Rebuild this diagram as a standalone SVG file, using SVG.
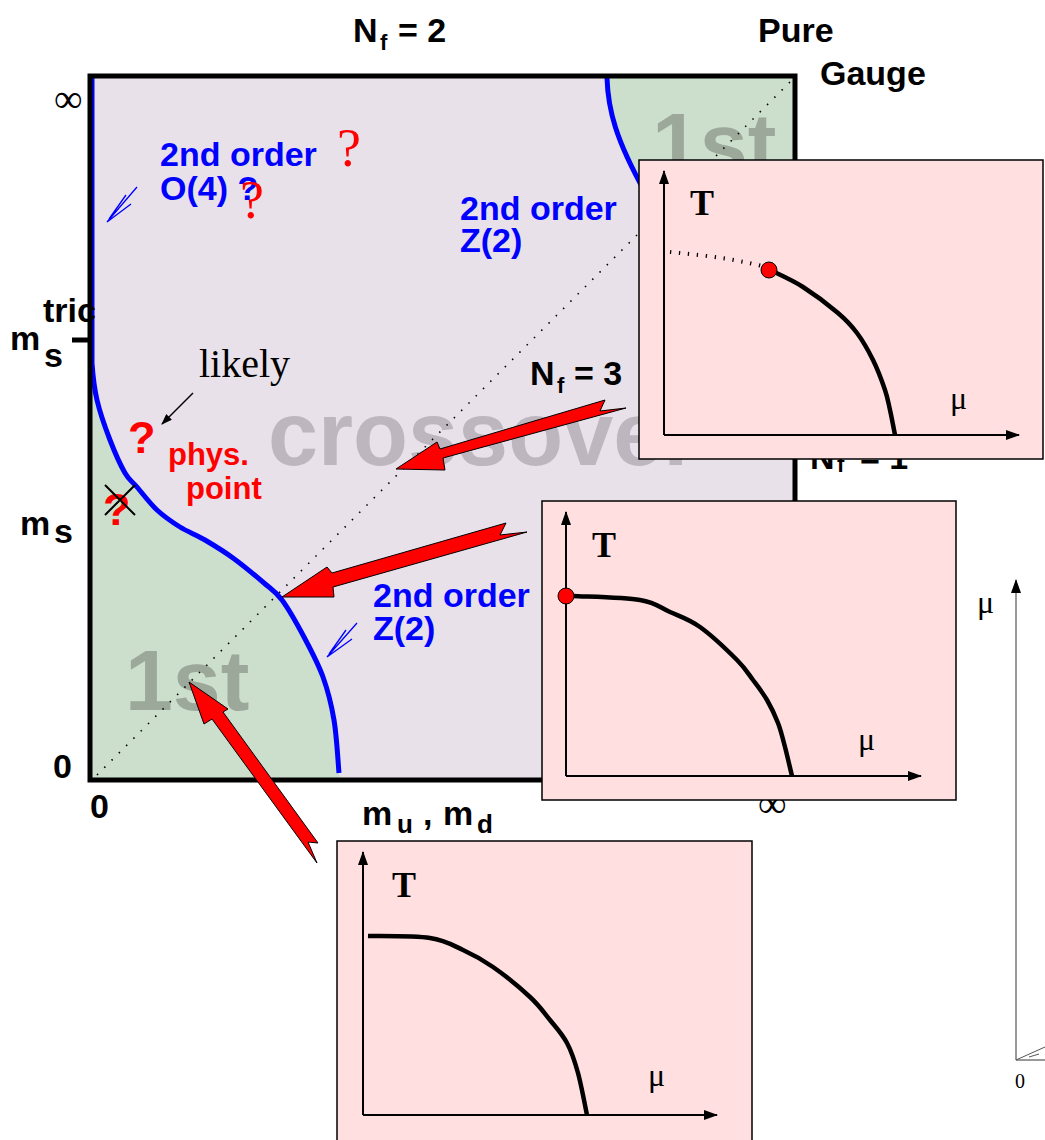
<svg xmlns="http://www.w3.org/2000/svg" width="1045" height="1140" viewBox="0 0 1045 1140">
<defs>
<marker id="ah" markerWidth="11" markerHeight="8" refX="10" refY="4" orient="auto" markerUnits="userSpaceOnUse"><path d="M0,0 L11,4 L0,8 Z" fill="#000"/></marker>
<marker id="axh" markerWidth="14" markerHeight="10" refX="13" refY="5" orient="auto" markerUnits="userSpaceOnUse"><path d="M0,0 L14,5 L0,10 Z" fill="#000"/></marker>
</defs>
<style>
.lbl{font-family:"Liberation Sans",Arial,sans-serif;font-weight:bold;font-size:34px;fill:#000}
.blue{font-family:"Liberation Sans",Arial,sans-serif;font-weight:bold;font-size:34px;fill:#0000FF}
.red{font-family:"Liberation Sans",Arial,sans-serif;font-weight:bold;fill:#FF0000}
.rq{font-family:"Liberation Serif","Times New Roman",serif;font-size:54px;fill:#FF0000}
.serif{font-family:"Liberation Serif","Times New Roman",serif;fill:#000}
.bigg{font-family:"Liberation Sans",Arial,sans-serif;font-weight:bold}
.rarrow{fill:#FF0000;stroke:#000;stroke-width:1}
.inset{fill:#FFDFE0;stroke:#000;stroke-width:1.5}
.axis{stroke:#000;stroke-width:2;fill:none}
.curve{stroke:#000;stroke-width:4.5;fill:none;stroke-linejoin:round}
.T{font-family:"Liberation Serif","Times New Roman",serif;font-weight:bold;font-size:36px;fill:#000}
.mu{font-family:"Liberation Serif","Times New Roman",serif;font-size:32px;fill:#000}
.bl{stroke:#0000FF;stroke-width:5;fill:none;stroke-linejoin:round}
.thinb{stroke:#0000FF;stroke-width:1.3;fill:none}
.dot{fill:#FF0000;stroke:#000;stroke-width:1}
</style>

<g id="phase-square">
<rect x="90" y="76" width="705" height="704" fill="#E8E1EA"/>
<path d="M92,363 C92.8,374.7 94,387.2 97,400 C100,412.8 105.3,427.8 110,440 C114.7,452.2 120.5,465.2 125,473 C129.5,480.8 131.7,480.8 137,487 C142.3,493.2 149.8,503.3 157,510 C164.2,516.7 172,522 180,527 C188,532 196.2,534.8 205,540 C213.8,545.2 223.2,550.8 233,558 C242.8,565.2 255.8,576 264,583 C272.2,590 275.3,591 282,600 C288.7,609 297.2,624.2 304,637 C310.8,649.8 318,663.2 323,677 C328,690.8 331.3,704 334,720 C336.7,736 338.2,764.2 339,773 L340,780 L90,780 L90,363 Z" fill="#CCDECC"/>
<path d="M607,76 C608,110 616,140 645,192 L700,300 L795,300 L795,76 Z" fill="#CCDECC"/>
<text class="bigg" x="125" y="710" font-size="86" fill="#9BA89A">1st</text>
<text class="bigg" x="652" y="173" font-size="86" fill="#9BA89A">1st</text>
<text class="bigg" x="268" y="465" font-size="90" fill="#BDB6BE">crossover</text>
<line x1="97" y1="775" x2="792" y2="80" stroke="#000" stroke-width="1.6" stroke-dasharray="1.5 8.8"/>
<path class="bl" d="M92,78 L92,363 C92.8,374.7 94,387.2 97,400 C100,412.8 105.3,427.8 110,440 C114.7,452.2 120.5,465.2 125,473 C129.5,480.8 131.7,480.8 137,487 C142.3,493.2 149.8,503.3 157,510 C164.2,516.7 172,522 180,527 C188,532 196.2,534.8 205,540 C213.8,545.2 223.2,550.8 233,558 C242.8,565.2 255.8,576 264,583 C272.2,590 275.3,591 282,600 C288.7,609 297.2,624.2 304,637 C310.8,649.8 318,663.2 323,677 C328,690.8 331.3,704 334,720 C336.7,736 338.2,764.2 339,773"/>
<path class="bl" d="M607,78 C608,110 616,140 645,192"/>
<rect x="90" y="76" width="705" height="704" fill="none" stroke="#000" stroke-width="5"/>
</g>

<g id="labels">
<text class="lbl" x="353" y="42">N<tspan font-size="22" x="380" y="50">f</tspan><tspan x="398" y="42">= 2</tspan></text>
<text class="lbl" x="758" y="42">Pure</text>
<text class="lbl" x="820" y="85">Gauge</text>
<text class="serif" x="54" y="112" font-size="40">∞</text>
<text class="lbl" x="10" y="350">m</text>
<text class="lbl" x="44" y="367" font-size="26">s</text>
<text class="lbl" x="43" y="322" font-size="21">tric</text>
<line x1="72" y1="340" x2="90" y2="340" stroke="#000" stroke-width="5"/>
<text class="lbl" x="20" y="535">m</text>
<text class="lbl" x="54" y="543" font-size="26">s</text>
<text class="lbl" x="53" y="778" font-size="32">0</text>
<text class="lbl" x="90" y="818" font-size="32">0</text>
<text class="lbl" x="362" y="825">m<tspan font-size="26" x="397" y="833">u</tspan><tspan x="423" y="825">,</tspan><tspan x="443" y="825">m</tspan><tspan font-size="26" x="477" y="833">d</tspan></text>
<text class="serif" x="758" y="817" font-size="40">∞</text>
<text class="blue" x="160" y="166">2nd order</text>
<text class="blue" x="160" y="200">O(4) ?</text>
<text class="rq" x="337" y="166">?</text>
<text class="rq" x="240" y="218">?</text>
<text class="blue" x="460" y="220">2nd order</text>
<text class="blue" x="460" y="252">Z(2)</text>
<text class="blue" x="373" y="607">2nd order</text>
<text class="blue" x="373" y="640">Z(2)</text>
<text class="serif" x="199" y="377" font-size="40">likely</text>
<text class="red" x="128" y="453" font-size="45">?</text>
<text class="red" x="168" y="465" font-size="31">phys.</text>
<text class="red" x="186" y="499" font-size="31">point</text>
<text class="red" x="103" y="525" font-size="45">?</text>
<path d="M105,485 L135,515 M105,515 L135,485" stroke="#000" stroke-width="2" fill="none"/>
<text class="lbl" x="530" y="385">N<tspan font-size="22" x="557" y="393">f</tspan><tspan x="574" y="385">= 3</tspan></text>
<text class="lbl" x="810" y="469">N<tspan font-size="22" x="837" y="472">f</tspan><tspan x="860" y="469">= 1</tspan></text>
</g>

<g id="connectors">
<polygon class="rarrow" points="396,469 437,442 440,449 605,400 600,411 626,408 443,458 445,470"/>
<polygon class="rarrow" points="282,597 327,567 332,573 506,523 500,535 527,532 333,587 334,597"/>
<polygon class="rarrow" points="189,682 204,724 212,719 317,863 308,842 318,843 223,712 228,709"/>
<line x1="193" y1="393" x2="162" y2="424" stroke="#000" stroke-width="1.5" marker-end="url(#ah)"/>
<path class="thinb" d="M137,187 L107,222 L131,204 M126,195 L109,219"/>
<path class="thinb" d="M357,623 L327,657 L352,639 M346,630 L329,654"/>
</g>

<g id="inset-nf3">
<rect class="inset" x="639" y="160" width="404" height="299"/>
<line class="axis" x1="664" y1="435" x2="664" y2="171" marker-end="url(#axh)"/>
<line class="axis" x1="664" y1="435" x2="1019" y2="435" marker-end="url(#axh)"/>
<text class="T" x="690" y="215">T</text>
<text class="mu" x="950" y="409">μ</text>
<path d="M670,252 C700,255 730,258 762,266" stroke="#000" stroke-width="4" stroke-dasharray="1.3 7.7" fill="none"/>
<path class="curve" d="M770,270 C775.5,272.8 791.7,279.8 803,287 C814.3,294.2 829,305.3 838,313 C847,320.7 851.2,325.2 857,333 C862.8,340.8 868.3,350.5 873,360 C877.7,369.5 882.2,381.7 885,390 C887.8,398.3 888.3,402.5 890,410 C891.7,417.5 894.2,430.8 895,435"/>
<circle class="dot" cx="769" cy="270" r="8"/>
</g>

<g id="inset-phys">
<rect class="inset" x="542" y="501" width="414" height="299"/>
<line class="axis" x1="566" y1="776" x2="566" y2="512" marker-end="url(#axh)"/>
<line class="axis" x1="566" y1="776" x2="921" y2="776" marker-end="url(#axh)"/>
<text class="T" x="592" y="557">T</text>
<text class="mu" x="858" y="750">μ</text>
<path class="curve" d="M573,596 C584.2,596.7 623.8,597.3 640,600 C656.2,602.7 660,607.5 670,612 C680,616.5 688.8,619 700,627 C711.2,635 728.2,651.2 737,660 C745.8,668.8 748,673.3 753,680 C758,686.7 762.8,692.8 767,700 C771.2,707.2 775,715.2 778,723 C781,730.8 782.7,738.2 785,747 C787.3,755.8 790.8,771.2 792,776"/>
<circle class="dot" cx="566" cy="596" r="8"/>
</g>

<g id="inset-nf2">
<rect class="inset" x="337" y="841" width="415" height="310"/>
<line class="axis" x1="363" y1="1115" x2="363" y2="852" marker-end="url(#axh)"/>
<line class="axis" x1="363" y1="1115" x2="717" y2="1115" marker-end="url(#axh)"/>
<text class="T" x="392" y="897">T</text>
<text class="mu" x="648" y="1086">μ</text>
<path class="curve" d="M368,936 C378.3,936.3 414.2,935.7 430,938 C445.8,940.3 452.5,945.2 463,950 C473.5,954.8 481.8,959.2 493,967 C504.2,974.8 520.5,988.2 530,997 C539.5,1005.8 543.8,1012.3 550,1020 C556.2,1027.7 562.3,1034.2 567,1043 C571.7,1051.8 574.7,1061 578,1073 C581.3,1085 585.5,1108 587,1115"/>
</g>

<g id="partial-panel">
<line x1="1016" y1="1060" x2="1016" y2="580" stroke="#777" stroke-width="1.5" marker-end="url(#axh)"/>
<line x1="1016" y1="1060" x2="1045" y2="1060" stroke="#777" stroke-width="1.5"/>
<line x1="1016" y1="1060" x2="1045" y2="1047" stroke="#555" stroke-width="1"/>
<line x1="1029" y1="1057" x2="1039" y2="1054" stroke="#555" stroke-width="1"/>
<text class="mu" x="977" y="613" font-size="30">μ</text>
<text class="serif" x="1015" y="1088" font-size="20">0</text>
</g>
</svg>
